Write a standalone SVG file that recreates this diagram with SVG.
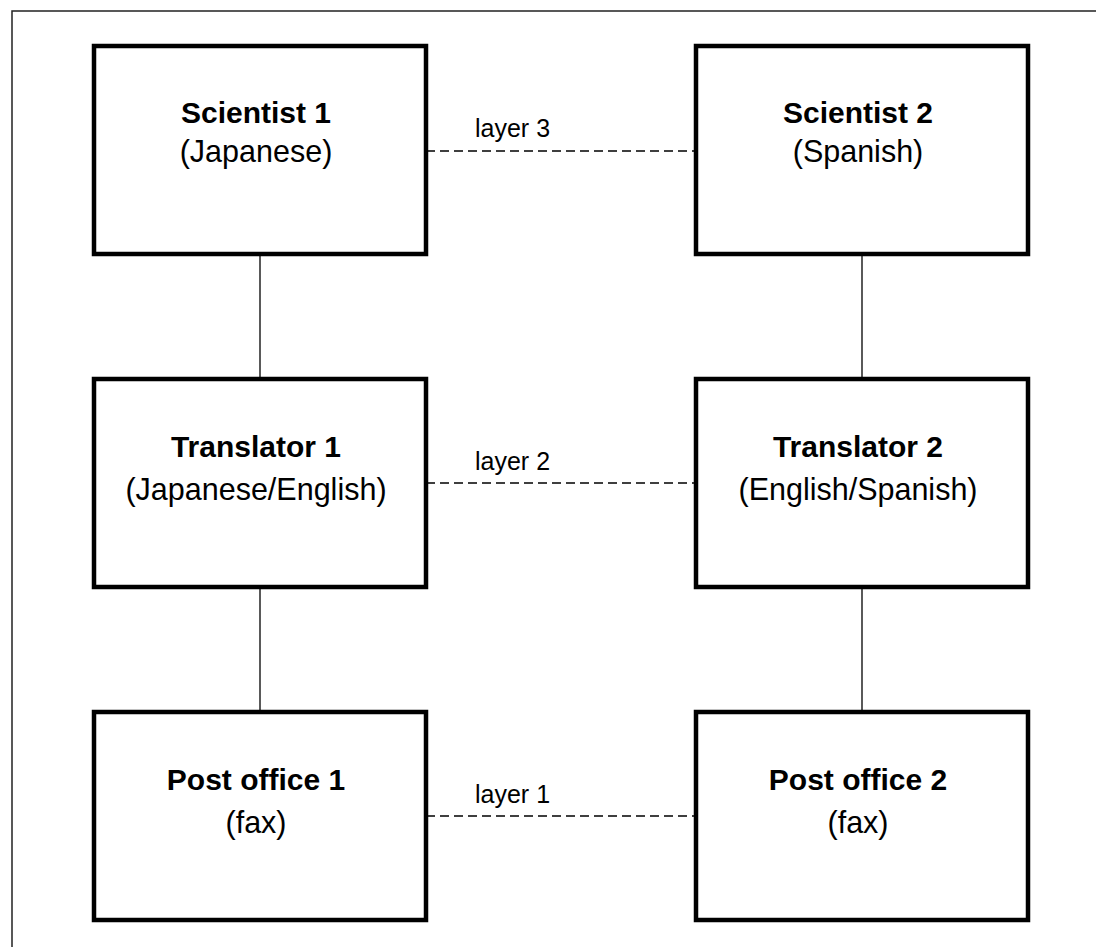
<svg xmlns="http://www.w3.org/2000/svg" width="1096" height="947" viewBox="0 0 1096 947">
<style>
.frame{fill:none;stroke:#222;stroke-width:1.5}
.box{fill:#fff;stroke:#000;stroke-width:4.5}
.link{fill:none;stroke:#000;stroke-width:1.3}
.dash{fill:none;stroke:#000;stroke-width:1.3;stroke-dasharray:9 5}
.t{font-family:"Liberation Sans",Arial,sans-serif;font-size:30.5px;fill:#000;text-anchor:middle}
.b{font-weight:bold;font-size:30px}
.lbl{font-family:"Liberation Sans",Arial,sans-serif;font-size:25px;fill:#000}
</style>
<rect width="1096" height="947" fill="#fff"/>
<rect class="frame" x="12" y="11" width="1200" height="1000"/>
<g id="connectors">
<line class="link" x1="260" y1="254" x2="260" y2="379"/>
<line class="link" x1="260" y1="587" x2="260" y2="712"/>
<line class="link" x1="862" y1="254" x2="862" y2="379"/>
<line class="link" x1="862" y1="587" x2="862" y2="712"/>
<line class="dash" x1="426" y1="151" x2="696" y2="151"/>
<line class="dash" x1="426" y1="483" x2="696" y2="483"/>
<line class="dash" x1="426" y1="816" x2="696" y2="816"/>
<text class="lbl" x="475" y="137">layer 3</text>
<text class="lbl" x="475" y="470">layer 2</text>
<text class="lbl" x="475" y="803">layer 1</text>
</g>
<g id="scientist1">
<rect class="box" x="94" y="46" width="332" height="208"/>
<text class="t b" x="256" y="123">Scientist 1</text>
<text class="t" x="256" y="162">(Japanese)</text>
</g>
<g id="scientist2">
<rect class="box" x="696" y="46" width="332" height="208"/>
<text class="t b" x="858" y="123">Scientist 2</text>
<text class="t" x="858" y="162">(Spanish)</text>
</g>
<g id="translator1">
<rect class="box" x="94" y="379" width="332" height="208"/>
<text class="t b" x="256" y="457">Translator 1</text>
<text class="t" x="256" y="500">(Japanese/English)</text>
</g>
<g id="translator2">
<rect class="box" x="696" y="379" width="332" height="208"/>
<text class="t b" x="858" y="457">Translator 2</text>
<text class="t" x="858" y="500">(English/Spanish)</text>
</g>
<g id="postoffice1">
<rect class="box" x="94" y="712" width="332" height="208"/>
<text class="t b" x="256" y="790">Post office 1</text>
<text class="t" x="256" y="833">(fax)</text>
</g>
<g id="postoffice2">
<rect class="box" x="696" y="712" width="332" height="208"/>
<text class="t b" x="858" y="790">Post office 2</text>
<text class="t" x="858" y="833">(fax)</text>
</g>
</svg>
